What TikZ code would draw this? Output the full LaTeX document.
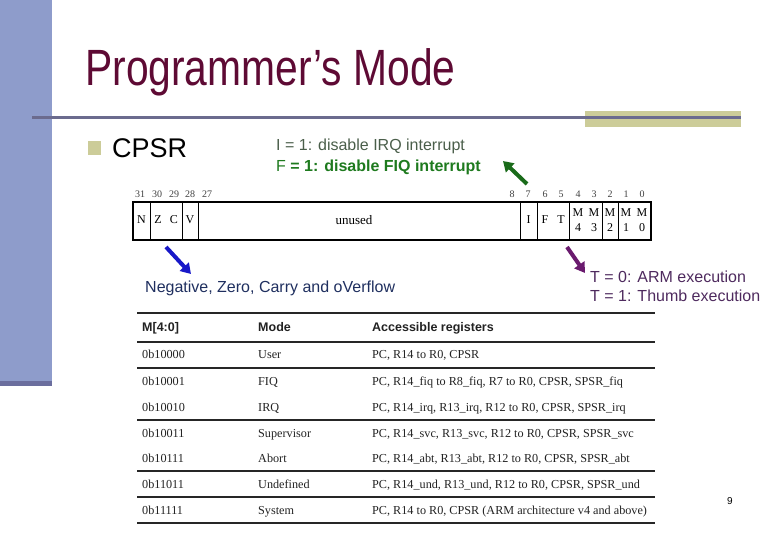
\documentclass[tikz,border=0pt]{standalone}
\usepackage{fontspec}
\setmainfont{Liberation Serif}
\setsansfont{Liberation Sans}
\newfontfamily\titlefont[FakeStretch=0.8]{Liberation Sans}
\newfontfamily\arialfont{Liberation Sans}
\newfontfamily\tnrfont{Liberation Serif}
\usetikzlibrary{arrows.meta}
\definecolor{bandblue}{HTML}{8E9CCB}
\definecolor{banddark}{HTML}{6B6E9E}
\definecolor{rulegray}{HTML}{6B6B8E}
\definecolor{olive}{HTML}{CCCC99}
\definecolor{titlered}{HTML}{5E0A34}
\definecolor{irqgray}{HTML}{4A5E4A}
\definecolor{fiqgreen}{HTML}{1E7A1E}
\definecolor{arrgreen}{HTML}{1A6B1A}
\definecolor{arrblue}{HTML}{1818C8}
\definecolor{arrpurple}{HTML}{6A1A6E}
\definecolor{navytext}{HTML}{1F2F5F}
\definecolor{plumtext}{HTML}{4E2A5E}
\definecolor{tabtext}{HTML}{222222}
\tikzset{
  txt/.style={inner sep=0pt, anchor=base west},
  ctr/.style={inner sep=0pt, anchor=center},
  bitnum/.style={inner sep=0pt, anchor=base, font=\tnrfont\fontsize{10}{10}\selectfont, text=black!75},
  reglet/.style={ctr, font=\tnrfont\fontsize{12}{13}\selectfont},
  regdiv/.style={line width=0.9pt},
  bigarrow/.style={line width=4pt, -{Triangle[length=10pt,width=12pt]}},
  thead/.style={txt, font=\arialfont\bfseries\fontsize{12.5}{14}\selectfont, text=tabtext},
  tbody/.style={txt, font=\tnrfont\fontsize{12.2}{14}\selectfont, text=tabtext},
  tline/.style={line width=1.1pt, black!85}
}
\begin{document}
\begin{tikzpicture}[x=1pt,y=-1pt]
\useasboundingbox (0,0) rectangle (780,540);
% slide decoration
\fill[bandblue] (0,0) rectangle (52,386);
\fill[banddark] (0,381) rectangle (52,386);
\fill[olive] (585,111) rectangle (741,127);
\draw[rulegray, line width=3pt] (32,117.5) -- (741,117.5);
% title
\node[txt, font=\titlefont\fontsize{51}{56}\selectfont, text=titlered] (title) at (85,86) {Programmer’s Mode};
% bullet
\fill[olive] (88,141) rectangle (101,155);
\node[txt, font=\arialfont\fontsize{27}{30}\selectfont] (cpsr) at (112,157.5) {CPSR};
% interrupt texts
\node[txt, font=\arialfont\fontsize{16}{18}\selectfont, text=irqgray] (irq) at (276,151) {I = 1: disable IRQ interrupt};
\node[txt, font=\arialfont\fontsize{16}{18}\selectfont, text=fiqgreen] (fiq) at (276,172) {F \textbf{= 1: disable FIQ interrupt}};
% register box
\draw[line width=1.8pt] (133,202) rectangle (651,240);
\foreach \x in {150,182,198,520,537,569,602,618} \draw[regdiv] (\x,202) -- (\x,240);
\foreach \n/\x in {31/140,30/157,29/174,28/190,27/207,8/512,7/528,6/545,5/561,4/578,3/594,2/610,1/626,0/642}
  \node[bitnum] (b\n) at (\x,197.5) {\n};
\node[reglet] (rN) at (141.5,220) {N};
\node[reglet] (rZ) at (158,220) {Z};
\node[reglet] (rC) at (174,220) {C};
\node[reglet] (rV) at (190,220) {V};
\node[reglet, font=\tnrfont\fontsize{13}{14}\selectfont] (unused) at (354,220) {unused};
\node[reglet] (rI) at (528.5,220) {I};
\node[reglet] (rF) at (545,220) {F};
\node[reglet] (rT) at (561,220) {T};
\foreach \k/\x in {4/578,3/594,2/610,1/626,0/642}{
  \node[reglet] (m\k) at (\x,213) {M};
  \node[reglet] (d\k) at (\x,228) {\k};
}
% arrows
\coordinate (gT) at (527,184);
\coordinate (gH) at (503,161);
\coordinate (bT) at (166,247);
\coordinate (bH) at (191,274);
\coordinate (pT) at (567,247);
\coordinate (pH) at (585,273);
\draw[bigarrow, arrgreen] (gT) -- (gH);
\draw[bigarrow, arrblue] (bT) -- (bH);
\draw[bigarrow, arrpurple] (pT) -- (pH);
% annotations
\node[txt, font=\arialfont\fontsize{16}{18}\selectfont, text=navytext] (nzcv) at (145,293) {Negative, Zero, Carry and oVerflow};
\node[txt, font=\arialfont\fontsize{16}{18}\selectfont, text=plumtext] (t0) at (590,283) {T = 0: ARM execution};
\node[txt, font=\arialfont\fontsize{16}{18}\selectfont, text=plumtext] (t1) at (590,302) {T = 1: Thumb execution};
% mode table
\foreach \y in {313,342,368,420,471,497,523} \draw[tline] (137,\y) -- (655,\y);
\node[thead] (h1) at (142,332) {M[4:0]};
\node[thead] (h2) at (258,332) {Mode};
\node[thead] (h3) at (372,332) {Accessible registers};
\foreach \i/\y/\code/\mode/\regs in {
  1/359/0b10000/User/{PC, R14 to R0, CPSR},
  2/385/0b10001/FIQ/{PC, R14\_fiq to R8\_fiq, R7 to R0, CPSR, SPSR\_fiq},
  3/411/0b10010/IRQ/{PC, R14\_irq, R13\_irq, R12 to R0, CPSR, SPSR\_irq},
  4/437/0b10011/Supervisor/{PC, R14\_svc, R13\_svc, R12 to R0, CPSR, SPSR\_svc},
  5/462.5/0b10111/Abort/{PC, R14\_abt, R13\_abt, R12 to R0, CPSR, SPSR\_abt},
  6/488/0b11011/Undefined/{PC, R14\_und, R13\_und, R12 to R0, CPSR, SPSR\_und},
  7/514/0b11111/System/{PC, R14 to R0, CPSR (ARM architecture v4 and above)}}{
  \node[tbody] (c\i) at (142,\y) {\code};
  \node[tbody] (m\i) at (258,\y) {\mode};
  \node[tbody] (r\i) at (372,\y) {\regs};
}
% page number
\node[ctr, font=\arialfont\fontsize{10}{12}\selectfont] (page) at (730,501) {9};
\end{tikzpicture}
\end{document}
